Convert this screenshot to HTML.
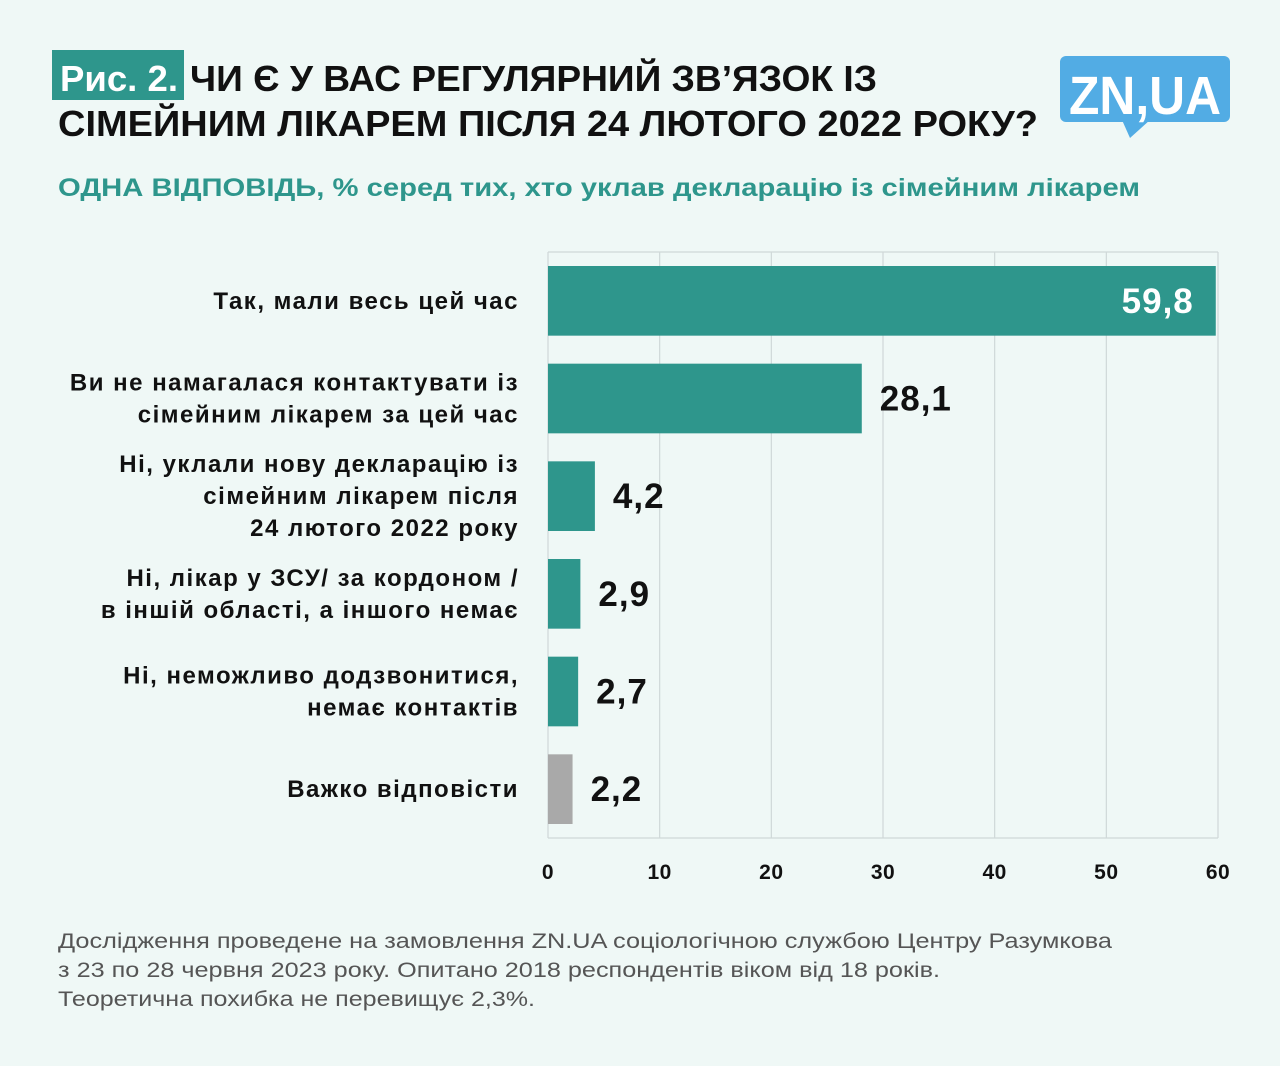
<!DOCTYPE html>
<html><head><meta charset="utf-8">
<style>
html,body{margin:0;padding:0;background:#eff8f6;}
body{width:1280px;height:1061px;overflow:hidden;font-family:"Liberation Sans",sans-serif;}
</style></head>
<body>
<svg id="c" width="1280" height="1061" xmlns="http://www.w3.org/2000/svg">
<rect width="1280" height="1061" fill="#eff8f6"/>
<rect x="52" y="50" width="132" height="50" fill="#2e968c"/>
<text x="60" y="91" font-size="36" font-weight="bold" fill="#fff" textLength="118" lengthAdjust="spacingAndGlyphs">Рис. 2.</text>
<text x="190" y="91" font-size="36" font-weight="bold" fill="#111" textLength="687" lengthAdjust="spacingAndGlyphs">ЧИ Є У ВАС РЕГУЛЯРНИЙ ЗВ’ЯЗОК ІЗ</text>
<text x="58" y="136" font-size="36" font-weight="bold" fill="#111" textLength="980" lengthAdjust="spacingAndGlyphs">СІМЕЙНИМ ЛІКАРЕМ ПІСЛЯ 24 ЛЮТОГО 2022 РОКУ?</text>
<g>
<rect x="1060" y="56" width="170" height="66" rx="6" fill="#52ace4"/>
<polygon points="1122,120 1150,120 1130,138" fill="#52ace4"/>
<text x="1145" y="114" font-size="54" font-weight="bold" fill="#fff" text-anchor="middle" textLength="152" lengthAdjust="spacingAndGlyphs">ZN,UA</text>
</g>
<text x="58" y="196" font-size="25" font-weight="bold" fill="#2e968c" textLength="1082" lengthAdjust="spacingAndGlyphs">ОДНА ВІДПОВІДЬ, % серед тих, хто уклав декларацію із сімейним лікарем</text>
<g id="grid"></g>
<g id="bars"></g>
<g id="labels"></g>
<g id="ticks"></g>
<text x="58" y="948" font-size="21" fill="#555" textLength="1054" lengthAdjust="spacingAndGlyphs">Дослідження проведене на замовлення ZN.UA соціологічною службою Центру Разумкова</text>
<text x="58" y="977" font-size="21" fill="#555" textLength="882" lengthAdjust="spacingAndGlyphs">з 23 по 28 червня 2023 року. Опитано 2018 респондентів віком від 18 років.</text>
<text x="58" y="1006" font-size="21" fill="#555" textLength="477" lengthAdjust="spacingAndGlyphs">Теоретична похибка не перевищує 2,3%.</text>
</svg>
<script>
const categories=[["Так, мали весь цей час"],["Ви не намагалася контактувати із","сімейним лікарем за цей час"],["Ні, уклали нову декларацію із","сімейним лікарем після","24 лютого 2022 року"],["Ні, лікар у ЗСУ/ за кордоном /","в іншій області, а іншого немає"],["Ні, неможливо додзвонитися,","немає контактів"],["Важко відповісти"]];
const values=[59.8,28.1,4.2,2.9,2.7,2.2];
const valueLabels=["59,8","28,1","4,2","2,9","2,7","2,2"];
const tickValues=[0,10,20,30,40,50,60];
const NS="http://www.w3.org/2000/svg";
const X0=548,X1=1218,T=252,B=838;
const xs=v=>X0+(v-0)/(60-0)*(X1-X0);
const band=(B-T)/values.length;
function mk(t,a,p){const e=document.createElementNS(NS,t);for(const k in a)e.setAttribute(k,a[k]);p.appendChild(e);return e;}
const g=document.getElementById('grid'),bg=document.getElementById('bars'),lg=document.getElementById('labels'),tg=document.getElementById('ticks');
tickValues.forEach(v=>{
 const l=mk('line',{x1:xs(v),x2:xs(v),y1:T,y2:B,stroke:'#cfd8d8','stroke-width':1.2},g);
 
 
 const t=mk('text',{x:xs(v),y:879,'font-size':21,'font-weight':'bold','text-anchor':'middle',fill:'#111','letter-spacing':0.5},tg);
 t.textContent=String(v);
 
 
});
mk('line',{x1:X0,x2:X1,y1:T,y2:T,stroke:'#cfd8d8','stroke-width':1.2},g);
mk('line',{x1:X0,x2:X1,y1:B,y2:B,stroke:'#cfd8d8','stroke-width':1.2},g);
values.forEach((v,i)=>{
 const y=T+i*band+14,h=band-28,cy=y+h/2;
 const r=mk('rect',{x:X0,y:y,width:xs(v)-X0,height:h,fill:i===values.length-1?'#a9a9a9':'#2e968c'},bg);
 
 
 const inside=v>50;
 const t=mk('text',{x:inside?xs(v)-22:xs(v)+18,y:cy+12,'font-size':35,'font-weight':'bold','text-anchor':inside?'end':'start',fill:inside?'#fff':'#111','letter-spacing':1},bg);
 t.textContent=valueLabels[i];
 
 
 const lines=categories[i],lh=32,start=cy-(lines.length-1)*lh/2+8;
 lines.forEach((s,j)=>{
  const c=mk('text',{x:519,y:start+j*lh,'font-size':24,'font-weight':'bold','text-anchor':'end',fill:'#111','letter-spacing':1.5},lg);
  c.textContent=s;
  
  
 });
});
</script>
</body></html>
